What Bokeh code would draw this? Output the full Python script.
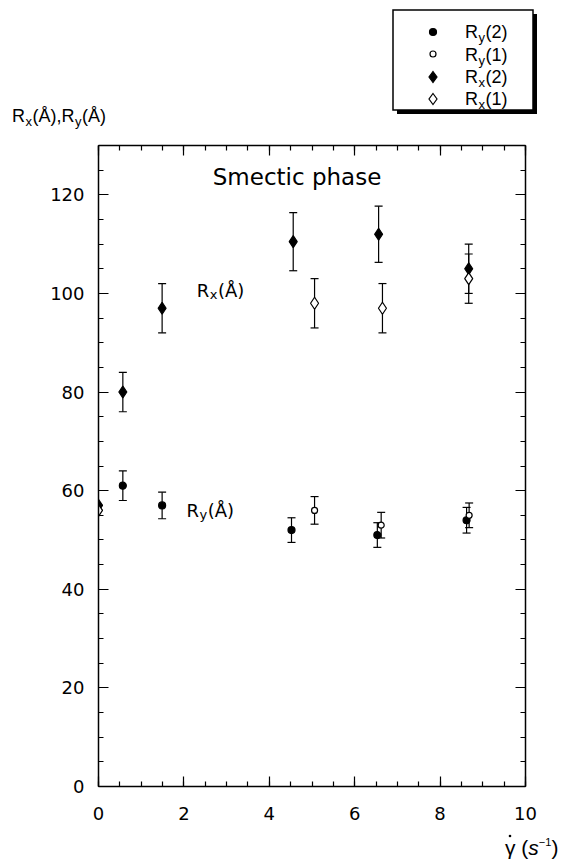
from bokeh.plotting import figure
from bokeh.layouts import column
from bokeh.models import (ColumnDataSource, Whisker, TeeHead, Label, Div,
                          LinearAxis, SingleIntervalTicker, Range1d, CustomJSTickFormatter)
from bokeh.embed import file_html
from bokeh.resources import INLINE

# ---------------- data ----------------
rx2_x = [0.0, 0.57, 1.49, 4.56, 6.56, 8.67]
rx2_y = [57, 80, 97, 110.5, 112, 105]
rx2_e = [0, 4, 5, 5.9, 5.7, 5]

rx1_x = [0.0, 5.06, 6.65, 8.67]
rx1_y = [56, 98, 97, 103]
rx1_e = [0, 5, 5, 5]

ry2_x = [0.57, 1.49, 4.52, 6.53, 8.62]
ry2_y = [61, 57, 52, 51, 54]
ry2_e = [3, 2.7, 2.5, 2.5, 2.6]

ry1_x = [5.06, 6.62, 8.68]
ry1_y = [56, 53, 55]
ry1_e = [2.8, 2.6, 2.5]

x_ticks_interval = 2
y_ticks_interval = 20

legend_subs = ["y", "y", "x", "x"]
legend_rest = ["(2)", "(1)", "(2)", "(1)"]
legend_markers = ["circle", "circle", "diamond", "diamond"]
legend_filled = [True, False, True, False]

FONT = "DejaVu Sans"
SERIF = "Liberation Serif"
W_TOTAL = 561
TXT_FIX = 7  # px, raises Label text so its alphabetic baseline lands where intended

# --------------- text helpers (main plot) ---------------
W = {"R": 0.695, "x": 0.592, "y": 0.592, "(": 0.390, ")": 0.390, "Å": 0.684,
     ",": 0.318, "1": 0.636, "2": 0.636}


def textw(s, size):
    return sum(W.get(c, 0.6) for c in s) * size


def rich(fig, x, y, parts, font=FONT):
    off = 0.0
    for t, size, dy, gap in parts:
        fig.add_layout(Label(x=x, y=y, x_offset=off, y_offset=dy + TXT_FIX, text=t,
                             text_font=font, text_font_size=f"{size}px",
                             text_baseline="alphabetic", text_align="left", text_color="black"))
        off += textw(t, size) + gap


def rlabel(fig, sub, rest, x, y, big=18, small=13):
    rich(fig, x, y, [("R", big, 0, 0.5), (sub, small, -4, 0.5), (rest, big, 0, 0)])


# --------------- top strip: y-axis title and legend (inline SVG) ---------------
def svg_r(x, y, sub, rest, big=18, small=13):
    return (f'<text x="{x}" y="{y}" font-family="{FONT}" font-size="{big}" fill="black">R'
            f'<tspan font-size="{small}" dy="4" dx="0.5">{sub}</tspan>'
            f'<tspan dy="-4" dx="0.5">{rest}</tspan></text>')


top_parts = [f'<svg xmlns="http://www.w3.org/2000/svg" width="{W_TOTAL}" height="137" '
             f'style="display:block">']
top_parts.append(
    f'<text x="12" y="122" font-family="{FONT}" font-size="18" fill="black">R'
    f'<tspan font-size="13" dy="4" dx="0.5">x</tspan><tspan dy="-4" dx="0.5">(Å),R</tspan>'
    f'<tspan font-size="13" dy="4" dx="0.5">y</tspan><tspan dy="-4" dx="0.5">(Å)</tspan></text>')
top_parts.append('<rect x="397" y="14" width="140" height="100" fill="black"/>')
top_parts.append('<rect x="393" y="10" width="140" height="100" fill="white" '
                 'stroke="black" stroke-width="1.5"/>')
row_mid = [32, 54, 77, 99]
row_base = [38, 61, 83, 105]
for m, f, ym, yb, sub, rest in zip(legend_markers, legend_filled, row_mid, row_base,
                                   legend_subs, legend_rest):
    fill = "black" if f else "white"
    if m == "circle":
        r = 3.5 if f else 3
        top_parts.append(f'<circle cx="433" cy="{ym}" r="{r}" fill="{fill}" '
                         f'stroke="black" stroke-width="1.2"/>')
    else:
        top_parts.append(f'<polygon points="433,{ym-5.5} 437,{ym} 433,{ym+5.5} 429,{ym}" '
                         f'fill="{fill}" stroke="black" stroke-width="1.2"/>')
    top_parts.append(svg_r(465, yb, sub, rest))
top_parts.append('</svg>')
top = Div(text="".join(top_parts), width=W_TOTAL, height=137, margin=0)

# --------------- main plot ---------------
p = figure(frame_width=427, frame_height=641,
           min_border_left=98, min_border_right=36, min_border_top=8, min_border_bottom=45,
           x_range=Range1d(0, 10), y_range=Range1d(0, 130),
           output_backend="svg", toolbar_location=None, x_axis_location=None, y_axis_location=None,
           margin=0)
p.xgrid.grid_line_color = None
p.ygrid.grid_line_color = None
p.outline_line_color = None


def style_axis(ax, labels=True):
    ax.axis_line_width = 1.5
    ax.axis_line_color = "black"
    ax.major_tick_in = 10
    ax.major_tick_out = 0
    ax.minor_tick_in = 5
    ax.minor_tick_out = 0
    ax.major_tick_line_width = 1.2
    ax.minor_tick_line_width = 1.2
    ax.major_tick_line_color = "black"
    ax.minor_tick_line_color = "black"
    ax.major_label_text_font = FONT
    ax.major_label_text_font_size = "18px"
    ax.major_label_text_color = "black"
    if not labels:
        ax.formatter = CustomJSTickFormatter(code="return ''")
        ax.major_label_text_font_size = "0px"
        ax.major_label_standoff = 0


for loc, lab in (("below", True), ("above", False)):
    ax = LinearAxis(ticker=SingleIntervalTicker(interval=x_ticks_interval, num_minor_ticks=4))
    style_axis(ax, lab)
    if lab:
        ax.major_label_standoff = 20
    p.add_layout(ax, loc)
for loc, lab in (("left", True), ("right", False)):
    ax = LinearAxis(ticker=SingleIntervalTicker(interval=y_ticks_interval, num_minor_ticks=4))
    style_axis(ax, lab)
    if lab:
        ax.major_label_standoff = 14
    p.add_layout(ax, loc)


def series(xs, ys, es, marker, size, filled):
    lo = [y - e for y, e in zip(ys, es)]
    hi = [y + e for y, e in zip(ys, es)]
    src = ColumnDataSource(dict(x=xs, y=ys, lo=lo, hi=hi))
    w = Whisker(source=src, base="x", lower="lo", upper="hi", dimension="height",
                line_width=1.2, line_color="black",
                lower_head=TeeHead(size=8, line_width=1.2),
                upper_head=TeeHead(size=8, line_width=1.2))
    p.add_layout(w)
    p.scatter("x", "y", source=src, marker=marker, size=size, line_color="black",
              line_width=1.2, fill_color="black" if filled else "white")


series(rx2_x, rx2_y, rx2_e, "diamond", 12, True)
series(rx1_x, rx1_y, rx1_e, "diamond", 12, False)
series(ry2_x, ry2_y, ry2_e, "circle", 7, True)
series(ry1_x, ry1_y, ry1_e, "circle", 6, False)

p.add_layout(Label(x=4.65, y=122.1, y_offset=TXT_FIX, text="Smectic phase", text_font=FONT,
                   text_font_size="23px", text_align="center", text_baseline="alphabetic",
                   text_color="black"))
rlabel(p, "x", "(Å)", 2.30, 99.2)
rlabel(p, "y", "(Å)", 2.06, 54.55)

# --------------- bottom strip: x-axis title (inline SVG) ---------------
bot_svg = (f'<svg xmlns="http://www.w3.org/2000/svg" width="{W_TOTAL}" height="30" '
           f'style="display:block">'
           f'<circle cx="510" cy="5" r="1.3" fill="black"/>'
           f'<text x="505" y="24" font-family="{SERIF}" font-size="21" fill="black">γ ('
           f'<tspan font-style="italic">s</tspan>'
           f'<tspan font-size="11" dy="-9">−1</tspan><tspan dy="9">)</tspan></text>'
           f'</svg>')
bot = Div(text=bot_svg, width=W_TOTAL, height=30, margin=0)

layout = column(top, p, bot, spacing=0)
open("out.html", "w").write(file_html(layout, INLINE))
